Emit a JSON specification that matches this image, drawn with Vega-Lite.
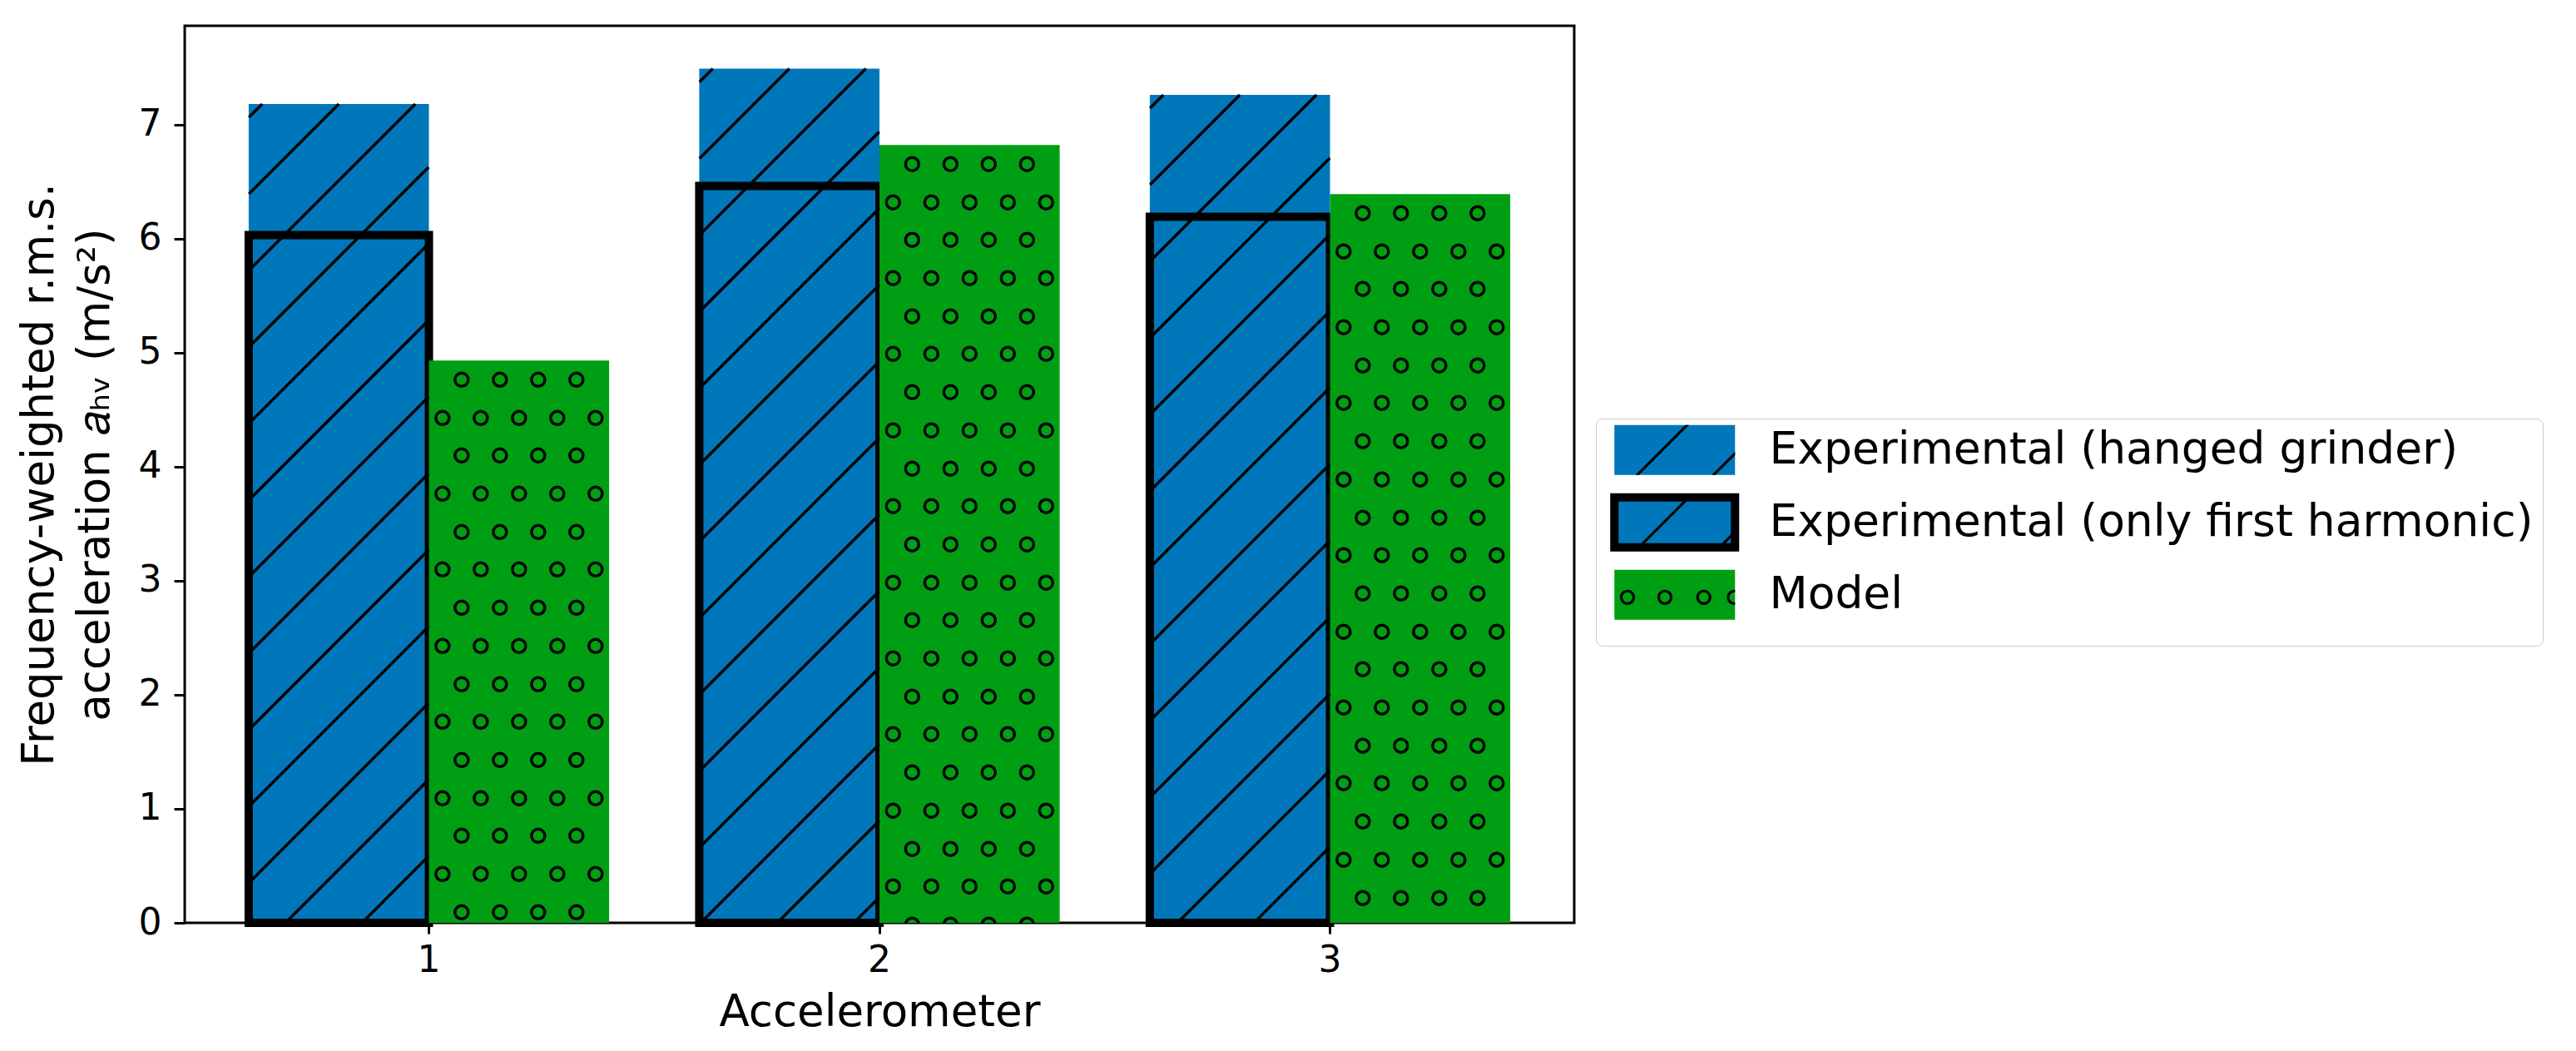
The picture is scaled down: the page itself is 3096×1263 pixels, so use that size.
{
  "$schema": "https://vega.github.io/schema/vega-lite/v6.json",
  "width": 1670,
  "height": 1078,
  "autosize": {"type": "none"},
  "padding": {"left": 222, "top": 31, "right": 1204, "bottom": 154},
  "background": "white",
  "config": {
    "view": {"stroke": "black", "strokeWidth": 3},
    "font": "DejaVu Sans",
    "axis": {"labelFont": "DejaVu Sans", "titleFont": "DejaVu Sans", "labelColor": "black", "titleColor": "black", "tickColor": "black", "tickWidth": 3, "tickSize": 13, "domain": false, "grid": false, "labelFontSize": 44, "titleFontSize": 53, "titleFontWeight": "normal"},
    "legend": {"orient": "none", "legendX": 1696, "legendY": 472, "padding": 11, "symbolSize": 4, "rowPadding": -14, "labelFont": "DejaVu Sans", "labelFontSize": 53.5, "labelColor": "black", "labelLimit": 3000, "labelOffset": 87, "symbolOffset": 57}
  },
  "resolve": {"scale": {"shape": "independent"}, "legend": {"shape": "independent"}},
  "data": {"values": [
    {"accel": 1, "source": "Experimental", "series": "Experimental (hanged grinder)", "value": 7.18},
    {"accel": 2, "source": "Experimental", "series": "Experimental (hanged grinder)", "value": 7.49},
    {"accel": 3, "source": "Experimental", "series": "Experimental (hanged grinder)", "value": 7.26},
    {"accel": 1, "source": "Experimental", "series": "Experimental (only first harmonic)", "value": 6.03},
    {"accel": 2, "source": "Experimental", "series": "Experimental (only first harmonic)", "value": 6.46},
    {"accel": 3, "source": "Experimental", "series": "Experimental (only first harmonic)", "value": 6.19},
    {"accel": 1, "source": "Model", "series": "Model", "value": 4.93},
    {"accel": 2, "source": "Model", "series": "Model", "value": 6.82},
    {"accel": 3, "source": "Model", "series": "Model", "value": 6.39}
  ]},
  "layer": [
    {
      "mark": {"type": "bar", "strokeWidth": 10, "strokeJoin": "miter"},
      "encoding": {
        "x": {"field": "accel", "type": "ordinal", "scale": {"paddingInner": 0.2, "paddingOuter": 0.142},
          "axis": {"title": "Accelerometer", "labelAngle": 0, "labelPadding": 10, "titleX": 835, "titleY": 123, "titleAlign": "center", "titleBaseline": "alphabetic"}},
        "xOffset": {"field": "source", "type": "nominal", "scale": {"domain": ["Experimental", "Model"], "paddingInner": 0, "paddingOuter": 0}},
        "y": {"field": "value", "type": "quantitative", "stack": null, "scale": {"domain": [0, 7.865], "nice": false},
          "axis": {"title": ["Frequency-weighted r.m.s.", "acceleration 𝑎ₕᵥ (m/s²)"], "values": [0, 1, 2, 3, 4, 5, 6, 7], "format": "d", "labelPadding": 15, "titleAngle": 270, "titleX": -159, "titleY": 539, "titleAlign": "center", "titleBaseline": "alphabetic", "titleLineHeight": 67}},
        "fill": {"field": "series", "type": "nominal",
          "scale": {"domain": ["Experimental (hanged grinder)", "Experimental (only first harmonic)", "Model"], "range": ["#0077bb", "#0077bb", "#009e12"]},
          "legend": {"title": null, "symbolType": "M-72.5,-30H72.5V30H-72.5Z", "symbolStrokeWidth": 10, "strokeColor": "#cccccc", "cornerRadius": 8,
            "encode": {"legend": {"strokeWidth": {"value": 3}}}}},
        "stroke": {"field": "series", "type": "nominal",
          "scale": {"domain": ["Experimental (hanged grinder)", "Experimental (only first harmonic)", "Model"], "range": ["transparent", "black", "transparent"]},
          "legend": {"title": null}}
      }
    },
    {
      "mark": {"type": "point", "size": 4, "filled": false, "stroke": "black", "strokeWidth": 3.5, "opacity": 1, "clip": true},
      "encoding": {
        "x": {"field": "accel", "type": "ordinal"},
        "xOffset": {"field": "source", "type": "nominal"},
        "y": {"field": "value", "type": "quantitative"},
        "shape": {"field": "series", "type": "nominal", "legend": null,
          "scale": {"range": [
            "M-108 16L-92 0M-108 108L0 0M-108 200L92 0M-108 292L108 76M-108 384L108 168M-108 476L108 260M-108 568L108 352M-108 660L108 444M-108 752L108 536M-108 844L108 628M-108 936L108 720M-108 1028L108 812M-88 1100L108 904M4 1100L108 996M96 1100L108 1088",
            "M0,0",
            "M-77 23a8 8 0 1 0 16 0a8 8 0 1 0 -16 0M-31 23a8 8 0 1 0 16 0a8 8 0 1 0 -16 0M15 23a8 8 0 1 0 16 0a8 8 0 1 0 -16 0M61 23a8 8 0 1 0 16 0a8 8 0 1 0 -16 0M-100 69a8 8 0 1 0 16 0a8 8 0 1 0 -16 0M-54 69a8 8 0 1 0 16 0a8 8 0 1 0 -16 0M-8 69a8 8 0 1 0 16 0a8 8 0 1 0 -16 0M38 69a8 8 0 1 0 16 0a8 8 0 1 0 -16 0M84 69a8 8 0 1 0 16 0a8 8 0 1 0 -16 0M-77 114a8 8 0 1 0 16 0a8 8 0 1 0 -16 0M-31 114a8 8 0 1 0 16 0a8 8 0 1 0 -16 0M15 114a8 8 0 1 0 16 0a8 8 0 1 0 -16 0M61 114a8 8 0 1 0 16 0a8 8 0 1 0 -16 0M-100 160a8 8 0 1 0 16 0a8 8 0 1 0 -16 0M-54 160a8 8 0 1 0 16 0a8 8 0 1 0 -16 0M-8 160a8 8 0 1 0 16 0a8 8 0 1 0 -16 0M38 160a8 8 0 1 0 16 0a8 8 0 1 0 -16 0M84 160a8 8 0 1 0 16 0a8 8 0 1 0 -16 0M-77 206a8 8 0 1 0 16 0a8 8 0 1 0 -16 0M-31 206a8 8 0 1 0 16 0a8 8 0 1 0 -16 0M15 206a8 8 0 1 0 16 0a8 8 0 1 0 -16 0M61 206a8 8 0 1 0 16 0a8 8 0 1 0 -16 0M-100 251a8 8 0 1 0 16 0a8 8 0 1 0 -16 0M-54 251a8 8 0 1 0 16 0a8 8 0 1 0 -16 0M-8 251a8 8 0 1 0 16 0a8 8 0 1 0 -16 0M38 251a8 8 0 1 0 16 0a8 8 0 1 0 -16 0M84 251a8 8 0 1 0 16 0a8 8 0 1 0 -16 0M-77 297a8 8 0 1 0 16 0a8 8 0 1 0 -16 0M-31 297a8 8 0 1 0 16 0a8 8 0 1 0 -16 0M15 297a8 8 0 1 0 16 0a8 8 0 1 0 -16 0M61 297a8 8 0 1 0 16 0a8 8 0 1 0 -16 0M-100 343a8 8 0 1 0 16 0a8 8 0 1 0 -16 0M-54 343a8 8 0 1 0 16 0a8 8 0 1 0 -16 0M-8 343a8 8 0 1 0 16 0a8 8 0 1 0 -16 0M38 343a8 8 0 1 0 16 0a8 8 0 1 0 -16 0M84 343a8 8 0 1 0 16 0a8 8 0 1 0 -16 0M-77 389a8 8 0 1 0 16 0a8 8 0 1 0 -16 0M-31 389a8 8 0 1 0 16 0a8 8 0 1 0 -16 0M15 389a8 8 0 1 0 16 0a8 8 0 1 0 -16 0M61 389a8 8 0 1 0 16 0a8 8 0 1 0 -16 0M-100 434a8 8 0 1 0 16 0a8 8 0 1 0 -16 0M-54 434a8 8 0 1 0 16 0a8 8 0 1 0 -16 0M-8 434a8 8 0 1 0 16 0a8 8 0 1 0 -16 0M38 434a8 8 0 1 0 16 0a8 8 0 1 0 -16 0M84 434a8 8 0 1 0 16 0a8 8 0 1 0 -16 0M-77 480a8 8 0 1 0 16 0a8 8 0 1 0 -16 0M-31 480a8 8 0 1 0 16 0a8 8 0 1 0 -16 0M15 480a8 8 0 1 0 16 0a8 8 0 1 0 -16 0M61 480a8 8 0 1 0 16 0a8 8 0 1 0 -16 0M-100 526a8 8 0 1 0 16 0a8 8 0 1 0 -16 0M-54 526a8 8 0 1 0 16 0a8 8 0 1 0 -16 0M-8 526a8 8 0 1 0 16 0a8 8 0 1 0 -16 0M38 526a8 8 0 1 0 16 0a8 8 0 1 0 -16 0M84 526a8 8 0 1 0 16 0a8 8 0 1 0 -16 0M-77 571a8 8 0 1 0 16 0a8 8 0 1 0 -16 0M-31 571a8 8 0 1 0 16 0a8 8 0 1 0 -16 0M15 571a8 8 0 1 0 16 0a8 8 0 1 0 -16 0M61 571a8 8 0 1 0 16 0a8 8 0 1 0 -16 0M-100 617a8 8 0 1 0 16 0a8 8 0 1 0 -16 0M-54 617a8 8 0 1 0 16 0a8 8 0 1 0 -16 0M-8 617a8 8 0 1 0 16 0a8 8 0 1 0 -16 0M38 617a8 8 0 1 0 16 0a8 8 0 1 0 -16 0M84 617a8 8 0 1 0 16 0a8 8 0 1 0 -16 0M-77 663a8 8 0 1 0 16 0a8 8 0 1 0 -16 0M-31 663a8 8 0 1 0 16 0a8 8 0 1 0 -16 0M15 663a8 8 0 1 0 16 0a8 8 0 1 0 -16 0M61 663a8 8 0 1 0 16 0a8 8 0 1 0 -16 0M-100 708a8 8 0 1 0 16 0a8 8 0 1 0 -16 0M-54 708a8 8 0 1 0 16 0a8 8 0 1 0 -16 0M-8 708a8 8 0 1 0 16 0a8 8 0 1 0 -16 0M38 708a8 8 0 1 0 16 0a8 8 0 1 0 -16 0M84 708a8 8 0 1 0 16 0a8 8 0 1 0 -16 0M-77 754a8 8 0 1 0 16 0a8 8 0 1 0 -16 0M-31 754a8 8 0 1 0 16 0a8 8 0 1 0 -16 0M15 754a8 8 0 1 0 16 0a8 8 0 1 0 -16 0M61 754a8 8 0 1 0 16 0a8 8 0 1 0 -16 0M-100 800a8 8 0 1 0 16 0a8 8 0 1 0 -16 0M-54 800a8 8 0 1 0 16 0a8 8 0 1 0 -16 0M-8 800a8 8 0 1 0 16 0a8 8 0 1 0 -16 0M38 800a8 8 0 1 0 16 0a8 8 0 1 0 -16 0M84 800a8 8 0 1 0 16 0a8 8 0 1 0 -16 0M-77 846a8 8 0 1 0 16 0a8 8 0 1 0 -16 0M-31 846a8 8 0 1 0 16 0a8 8 0 1 0 -16 0M15 846a8 8 0 1 0 16 0a8 8 0 1 0 -16 0M61 846a8 8 0 1 0 16 0a8 8 0 1 0 -16 0M-100 891a8 8 0 1 0 16 0a8 8 0 1 0 -16 0M-54 891a8 8 0 1 0 16 0a8 8 0 1 0 -16 0M-8 891a8 8 0 1 0 16 0a8 8 0 1 0 -16 0M38 891a8 8 0 1 0 16 0a8 8 0 1 0 -16 0M84 891a8 8 0 1 0 16 0a8 8 0 1 0 -16 0M-77 937a8 8 0 1 0 16 0a8 8 0 1 0 -16 0M-31 937a8 8 0 1 0 16 0a8 8 0 1 0 -16 0M15 937a8 8 0 1 0 16 0a8 8 0 1 0 -16 0M61 937a8 8 0 1 0 16 0a8 8 0 1 0 -16 0M-100 983a8 8 0 1 0 16 0a8 8 0 1 0 -16 0M-54 983a8 8 0 1 0 16 0a8 8 0 1 0 -16 0M-8 983a8 8 0 1 0 16 0a8 8 0 1 0 -16 0M38 983a8 8 0 1 0 16 0a8 8 0 1 0 -16 0M84 983a8 8 0 1 0 16 0a8 8 0 1 0 -16 0M-77 1028a8 8 0 1 0 16 0a8 8 0 1 0 -16 0M-31 1028a8 8 0 1 0 16 0a8 8 0 1 0 -16 0M15 1028a8 8 0 1 0 16 0a8 8 0 1 0 -16 0M61 1028a8 8 0 1 0 16 0a8 8 0 1 0 -16 0"
          ]}
        }
      }
    },
    {
      "mark": {"type": "point", "size": 0, "filled": true, "fill": "black", "stroke": "transparent", "strokeWidth": 10, "opacity": 1},
      "encoding": {
        "x": {"field": "accel", "type": "ordinal"},
        "xOffset": {"field": "source", "type": "nominal"},
        "y": {"field": "value", "type": "quantitative"},
        "shape": {"field": "series", "type": "nominal",
          "scale": {"range": [
            "M-72.5,-30L-72.5,-30M72.5,30L72.5,30M-47.26,30L-42.74,30L17.26,-30L12.74,-30ZM44.44,30L48.96,30L72.5,6.46L72.5,1.94Z",
            "M-72.5,-30L-72.5,-30M72.5,30L72.5,30M-45.26,30L-40.74,30L19.26,-30L14.74,-30ZM51.74,30L56.26,30L72.5,13.76L72.5,9.24Z",
            "M-72.5,-30L-72.5,-30M72.5,30L72.5,30M-65.8,3A9.1,9.1 0 1 0 -47.6,3A9.1,9.1 0 1 0 -65.8,3ZM-62.6,3A5.9,5.9 0 1 1 -50.8,3A5.9,5.9 0 1 1 -62.6,3ZM-20.8,3A9.1,9.1 0 1 0 -2.6,3A9.1,9.1 0 1 0 -20.8,3ZM-17.6,3A5.9,5.9 0 1 1 -5.8,3A5.9,5.9 0 1 1 -17.6,3ZM25.9,3A9.1,9.1 0 1 0 44.1,3A9.1,9.1 0 1 0 25.9,3ZM29.1,3A5.9,5.9 0 1 1 40.9,3A5.9,5.9 0 1 1 29.1,3ZM72.5,-6.065A9.1,9.1 0 1 0 72.5,12.065L72.5,8.846A5.9,5.9 0 1 1 72.5,-2.846Z"
          ]},
          "legend": {"title": null, "labelOpacity": 0, "symbolStrokeWidth": 10, "symbolFillColor": "black", "symbolStrokeColor": "transparent"}
        }
      }
    }
  ]
}
